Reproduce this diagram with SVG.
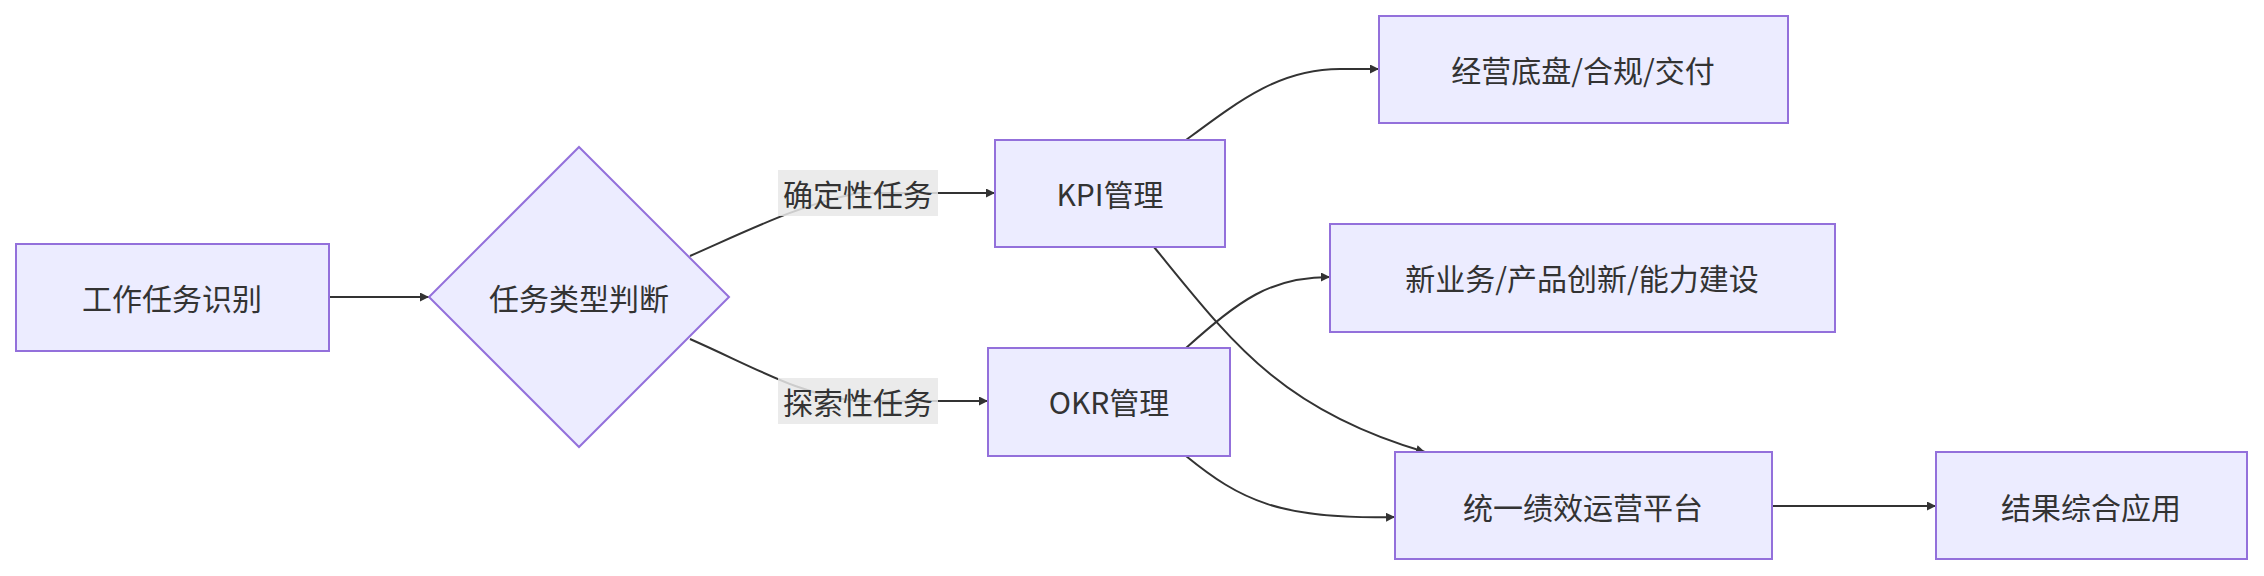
<svg xmlns="http://www.w3.org/2000/svg" width="2264" height="576" viewBox="0 0 2264 576">
<style>
.n{fill:#ECECFF;stroke:#9370DB;stroke-width:2}
.t{font-family:"Noto Sans CJK SC","Liberation Sans",sans-serif;font-size:30px;fill:#333;text-anchor:middle;dominant-baseline:central}
.e{fill:none;stroke:#333;stroke-width:2;marker-end:url(#a)}
.lb{fill:#e8e8e8;opacity:0.85}
</style>
<defs><marker id="a" viewBox="0 0 10 10" refX="10" refY="5" markerWidth="9" markerHeight="9" markerUnits="userSpaceOnUse" orient="auto"><path d="M0,0L10,5L0,10z" fill="#333"/></marker></defs>
<rect width="2264" height="576" fill="#fff"/>
<g id="edges">
<path class="e" d="M329,297L429,297"/>
<path class="e" d="M690,256C760,225 800,205 858,193L995,193"/>
<path class="e" d="M690,339C760,370 800,395 858,401L988,401"/>
<path class="e" d="M1186,140C1240,100 1280,69 1340,69L1379,69"/>
<path class="e" d="M1154,247C1230,340 1280,410 1425,452"/>
<path class="e" d="M1186,348C1240,300 1270,277 1330,277"/>
<path class="e" d="M1186,456C1240,500 1280,520 1395,517"/>
<path class="e" d="M1772,506L1936,506"/>
<rect class="lb" x="778" y="170" width="160" height="46"/>
<text class="t" x="858" y="193">确定性任务</text>
<rect class="lb" x="778" y="378" width="160" height="46"/>
<text class="t" x="858" y="401">探索性任务</text>
</g>
<g id="n1"><rect class="n" x="16" y="244" width="313" height="107"/><text class="t" x="172" y="297">工作任务识别</text></g>
<g id="n2"><path class="n" d="M579,147L729,297L579,447L429,297z"/><text class="t" x="579" y="297">任务类型判断</text></g>
<g id="n3"><rect class="n" x="995" y="140" width="230" height="107"/><text class="t" x="1110" y="193">KPI管理</text></g>
<g id="n4"><rect class="n" x="988" y="348" width="242" height="108"/><text class="t" x="1109" y="401">OKR管理</text></g>
<g id="n5"><rect class="n" x="1379" y="16" width="409" height="107"/><text class="t" x="1583" y="69">经营底盘/合规/交付</text></g>
<g id="n6"><rect class="n" x="1330" y="224" width="505" height="108"/><text class="t" x="1582" y="277">新业务/产品创新/能力建设</text></g>
<g id="n7"><rect class="n" x="1395" y="452" width="377" height="107"/><text class="t" x="1583" y="506">统一绩效运营平台</text></g>
<g id="n8"><rect class="n" x="1936" y="452" width="311" height="107"/><text class="t" x="2091" y="506">结果综合应用</text></g>
</svg>
